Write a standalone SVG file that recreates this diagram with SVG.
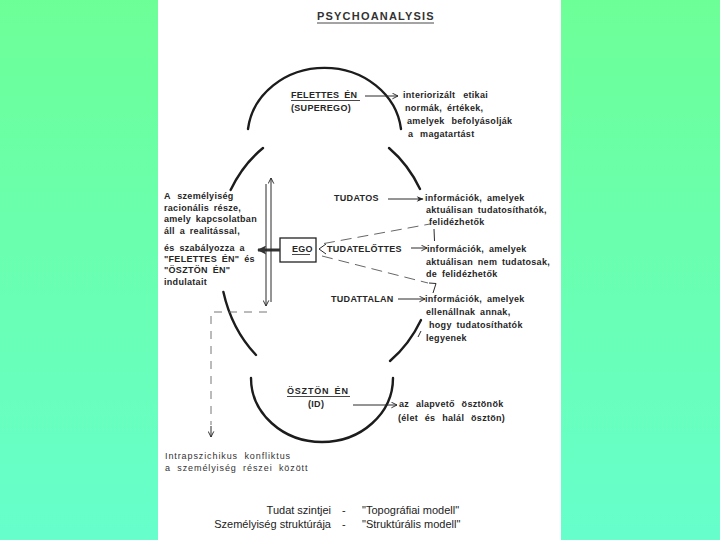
<svg xmlns="http://www.w3.org/2000/svg" width="720" height="540" viewBox="0 0 720 540">
<defs>
<linearGradient id="bg" x1="0" y1="0" x2="0" y2="1">
<stop offset="0" stop-color="#6dff97"/>
<stop offset="1" stop-color="#66ffcc"/>
</linearGradient>
<marker id="open" viewBox="0 0 10 10" refX="9" refY="5" markerWidth="7" markerHeight="7" orient="auto" markerUnits="userSpaceOnUse">
<path d="M1,1 L9,5 L1,9" fill="none" stroke="#222" stroke-width="1.3"/>
</marker>
<marker id="fill" viewBox="0 0 10 10" refX="9" refY="5" markerWidth="8" markerHeight="7" orient="auto" markerUnits="userSpaceOnUse">
<path d="M0,1 L10,5 L0,9 L3,5 Z" fill="#222"/>
</marker>
<marker id="thick" viewBox="0 0 10 10" refX="9" refY="5" markerWidth="10" markerHeight="9" orient="auto" markerUnits="userSpaceOnUse">
<path d="M0,0 L10,5 L0,10 L2,5 Z" fill="#333"/>
</marker>
<style>
.t{font-family:"Liberation Sans",Arial,sans-serif;font-size:9px;font-weight:bold;fill:#262626;letter-spacing:0.3px;word-spacing:2px}
.c{font-family:"Liberation Sans",Arial,sans-serif;font-size:9px;fill:#333;letter-spacing:0.9px;word-spacing:3px}
.n{font-family:"Liberation Sans",Arial,sans-serif;font-size:11px;fill:#222}
.title{font-family:"Liberation Sans",Arial,sans-serif;font-size:11px;font-weight:bold;fill:#333;letter-spacing:1.2px}
.arc{fill:none;stroke:#1c1c1c;stroke-width:2.4;stroke-linecap:round}
.ln{fill:none;stroke:#2a2a2a;stroke-width:1}
.dash{fill:none;stroke:#555;stroke-width:0.9;stroke-dasharray:11,6}
.dash2{fill:none;stroke:#666;stroke-width:0.9;stroke-dasharray:8,7}
.ul{stroke:#333;stroke-width:0.9}
</style>
</defs>
<rect x="0" y="0" width="720" height="540" fill="url(#bg)"/>
<rect x="158" y="0" width="403" height="540" fill="#ffffff"/>

<g id="title">
<text class="title" x="317" y="20">PSYCHOANALYSIS</text>
<line class="ul" x1="317" y1="23" x2="434" y2="23"/>
</g>

<g id="shapes">
<path class="arc" d="M248,129 A77,69 0 0 1 401,129"/>
<path class="arc" d="M263,148 A108,128 0 0 0 230.6,190"/>
<path class="arc" d="M389,148 A108,128 0 0 1 420,189"/>
<path class="arc" d="M223.4,292 A108,128 0 0 0 256,355"/>
<path class="arc" d="M421,320 A108,128 0 0 1 390,361"/>
<path class="arc" d="M251,378 A71,64 0 0 0 393,378"/>
</g>

<g id="superego">
<text class="t" x="291" y="98">FELETTES ÉN</text>
<line class="ul" x1="291" y1="100.5" x2="360" y2="100.5"/>
<text class="t" x="291" y="111">(SUPEREGO)</text>
</g>
<g id="superego-desc">
<text class="t" x="403" y="98" style="word-spacing:5px">interiorizált etikai</text>
<text class="t" x="405" y="111">normák, értékek,</text>
<text class="t" x="407" y="124" style="word-spacing:4px">amelyek befolyásolják</text>
<text class="t" x="408" y="137" style="word-spacing:4px">a magatartást</text>
</g>

<g id="ego">
<rect x="280" y="238" width="36" height="24" fill="#fff" stroke="#222" stroke-width="1.3"/>
<text class="t" x="292" y="252">EGO</text>
<line class="ul" x1="292" y1="254.5" x2="310" y2="254.5"/>
</g>
<g id="ego-desc">
<text class="t" x="164" y="199" style="word-spacing:4px">A személyiség</text>
<text class="t" x="164" y="210.5">racionális része,</text>
<text class="t" x="164" y="222">amely kapcsolatban</text>
<text class="t" x="164" y="233.5">áll a realitással,</text>
<text class="t" x="164" y="251">és szabályozza a</text>
<text class="t" x="164" y="262">"FELETTES ÉN" és</text>
<text class="t" x="164" y="273">"ÖSZTÖN ÉN"</text>
<text class="t" x="164" y="285">indulatait</text>
</g>

<g id="tudatos">
<text class="t" x="334" y="201">TUDATOS</text>
<text class="t" x="425" y="201">információk, amelyek</text>
<text class="t" x="426" y="213">aktuálisan tudatosíthatók,</text>
<text class="t" x="429" y="225">felidézhetők</text>
</g>
<g id="tudatelottes">
<text class="t" x="327" y="252">TUDATELŐTTES</text>
<text class="t" x="427" y="252">információk, amelyek</text>
<text class="t" x="426" y="265">aktuálisan nem tudatosak,</text>
<text class="t" x="426" y="277">de felidézhetők</text>
</g>
<g id="tudattalan">
<text class="t" x="331" y="302">TUDATTALAN</text>
<text class="t" x="425" y="302">információk, amelyek</text>
<text class="t" x="426" y="315">ellenállnak annak,</text>
<text class="t" x="429" y="328">hogy tudatosíthatók</text>
<text class="t" x="426" y="341">legyenek</text>
</g>

<g id="id">
<text class="t" x="287" y="394" style="letter-spacing:0.8px">ÖSZTÖN ÉN</text>
<line class="ul" x1="287" y1="396.5" x2="350" y2="396.5"/>
<text class="t" x="308" y="407">(ID)</text>
</g>
<g id="id-desc">
<text class="t" x="399" y="407" style="word-spacing:4px">az alapvető ösztönök</text>
<text class="t" x="398" y="421" style="word-spacing:4px">(élet és halál ösztön)</text>
</g>

<g id="conflict">
<text class="c" x="165" y="459">Intrapszichikus konfliktus</text>
<text class="c" x="165" y="471">a személyiség részei között</text>
</g>

<g id="legend">
<text class="n" x="331" y="514" text-anchor="end">Tudat szintjei</text>
<text class="n" x="331" y="528" text-anchor="end">Személyiség struktúrája</text>
<text class="n" x="342" y="514">-</text>
<text class="n" x="342" y="528">-</text>
<text class="n" x="362" y="514">"Topográfiai modell"</text>
<text class="n" x="362" y="528">"Struktúrális modell"</text>
</g>

<g id="connectors">
<line class="ln" x1="365" y1="96" x2="398" y2="96" marker-end="url(#open)"/>
<line class="ln" x1="388" y1="199" x2="423" y2="199" marker-end="url(#fill)"/>
<line class="ln" x1="411" y1="248" x2="427" y2="248" marker-end="url(#open)"/>
<line class="ln" x1="398" y1="299" x2="425" y2="299" marker-end="url(#open)"/>
<line class="ln" x1="353" y1="405" x2="397" y2="405" marker-end="url(#open)"/>
<line x1="280" y1="250" x2="258" y2="250" stroke="#333" stroke-width="3" marker-end="url(#thick)"/>
<line class="ln" x1="266" y1="184" x2="266" y2="306" marker-end="url(#open)"/>
<line class="ln" x1="271" y1="302" x2="271" y2="178" marker-end="url(#open)"/>
<polyline class="ln" points="326,244 319,249 326,254"/>
<line class="dash" x1="324" y1="243.5" x2="430" y2="224"/>
<line class="ln" x1="434" y1="229" x2="434.5" y2="241"/>
<line class="dash" x1="322" y1="256" x2="428" y2="283"/>
<polyline class="ln" points="429,283 436,283.5 433,293"/>
<line class="ln" x1="421" y1="331" x2="418" y2="337"/>
<polyline class="dash2" points="267,312 211,312 211,425"/>
<line class="ln" x1="211" y1="426" x2="211" y2="437" stroke="#666" marker-end="url(#open)"/>
</g>
</svg>
